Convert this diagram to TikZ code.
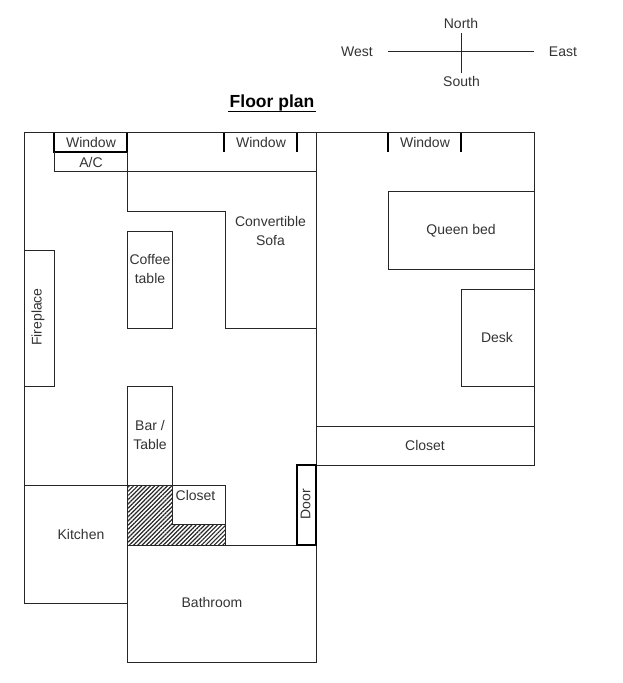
\documentclass[tikz,border=0pt]{standalone}
\usepackage{fontspec}
\setmainfont{Liberation Sans}
\usetikzlibrary{patterns.meta}
\tikzset{
    wall/.style={line width=0.9pt,black!85},
    thickwall/.style={line width=2pt,black},
    lbl/.style={font=\fontsize{14}{16}\selectfont,text=black!80,inner sep=0pt,align=center},
    hatched/.style={pattern={Lines[angle=45,distance=3pt,line width=1.2pt]},pattern color=black!85}
}
\begin{document}
\begin{tikzpicture}[x=1pt,y=-1pt]
    \useasboundingbox (0,0) rectangle (623,683);
    %% Compass
    \coordinate (compassW) at (388,51.6);
    \coordinate (compassE) at (534,51.6);
    \coordinate (compassN) at (461,33);
    \coordinate (compassS) at (461,73);
    \draw[wall] (compassW) -- (compassE);
    \draw[wall] (compassN) -- (compassS);
    \node[lbl] (north) at (461,23.2) {North};
    \node[lbl] (south) at (461.5,81.8) {South};
    \node[lbl] (west) at (357,52.2) {West};
    \node[lbl] (east) at (563,51.8) {East};
    %% Title
    \node[inner sep=0pt,font=\fontsize{17.5}{20}\selectfont\bfseries] (title) at (272,103) {Floor plan};
    \draw[line width=1.1pt] (228,111.6) -- (316,111.6);
    %% Outer walls
    \draw[wall] (127,485) -- (24,485) -- (24,132.6) -- (534,132.6) -- (534,465) -- (316,465);
    \draw[wall] (316,132.6) -- (316,545);
    \draw[wall] (316,426) -- (534,426);
    %% Hatched closet wall
    \draw[wall,hatched] (127,485) -- (172,485) -- (172,524) -- (225,524) -- (225,545) -- (127,545) -- cycle;
    \draw[wall] (172,485) -- (225,485) -- (225,524);
    %% Kitchen and bathroom
    \draw[wall] (24,485) -- (24,603) -- (127,603);
    \draw[wall] (127,545) rectangle (316,662);
    %% Windows
    \draw[thickwall,line width=1.6pt] (54,132.6) -- (54,152) -- (127,152) -- (127,132.6);
    \foreach \x in {224,297,388,461}
        \draw[thickwall] (\x,132.6) -- (\x,152);
    %% A/C and sofa
    \draw[wall] (54,152) -- (54,171.6) -- (316,171.6);
    \draw[wall] (127,152) -- (127,211) -- (225,211) -- (225,328) -- (316,328);
    %% Furniture
    \draw[wall] (127,231) rectangle (172,328);
    \draw[wall] (24,250) rectangle (54,386);
    \draw[wall] (127,386) rectangle (172,485);
    \draw[wall] (534,191) -- (388,191) -- (388,269) -- (534,269);
    \draw[wall] (534,289) -- (461,289) -- (461,386) -- (534,386);
    %% Door
    \draw[thickwall] (297,465) rectangle (316,545);
    %% Labels
    \node[lbl] (windowA) at (91,142.8) {Window};
    \node[lbl] (windowB) at (261,142.8) {Window};
    \node[lbl] (windowC) at (425,142.8) {Window};
    \node[lbl] (ac) at (91,162.2) {A/C};
    \node[lbl] (sofa) at (270.5,230.8) {Convertible\\[2.5pt]Sofa};
    \node[lbl] (coffee) at (150,269.2) {Coffee\\[2.5pt]table};
    \node[lbl,rotate=90] (fireplace) at (38,317) {Fireplace};
    \node[lbl] (bed) at (461,230.8) {Queen bed};
    \node[lbl] (desk) at (497,337.8) {Desk};
    \node[lbl] (closetE) at (425,445.2) {Closet};
    \node[lbl] (bar) at (150,435.2) {Bar /\\[2.5pt]Table};
    \node[lbl] (closetW) at (195.5,495.2) {Closet};
    \node[lbl,rotate=90] (door) at (305.5,504) {Door};
    \node[lbl] (kitchen) at (81,534.2) {Kitchen};
    \node[lbl] (bathroom) at (212,602.2) {Bathroom};
\end{tikzpicture}
\end{document}
